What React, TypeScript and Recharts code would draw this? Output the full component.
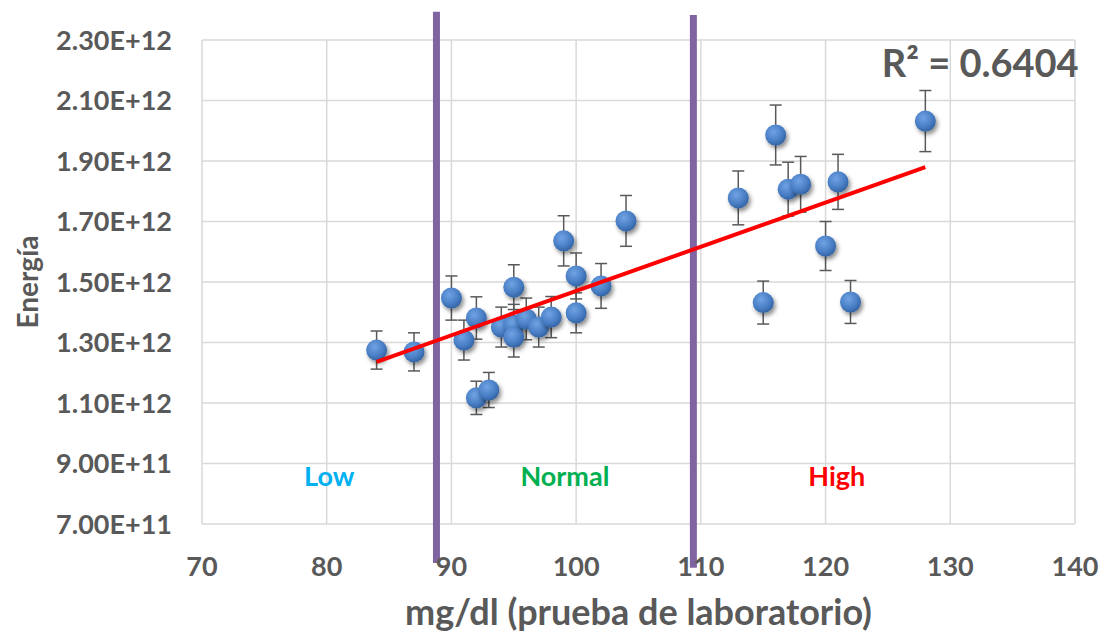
import {
  ScatterChart,
  Scatter,
  XAxis,
  YAxis,
  CartesianGrid,
  ErrorBar,
  ReferenceLine,
  ReferenceDot,
} from "recharts";

// mg/dl values (x) and energy (y) with error half-ranges
const glucose = [84, 87, 90, 91, 92, 92, 93, 94, 95, 95, 95, 96, 97, 98, 99, 100, 100, 102, 104, 113, 115, 116, 117, 118, 120, 121, 122, 128];
const energy = [1.275e12, 1.269e12, 1.447e12, 1.308e12, 1.381e12, 1.117e12, 1.143e12, 1.351e12, 1.358e12, 1.318e12, 1.483e12, 1.378e12, 1.351e12, 1.384e12, 1.636e12, 1.52e12, 1.398e12, 1.487e12, 1.702e12, 1.778e12, 1.432e12, 1.986e12, 1.807e12, 1.823e12, 1.619e12, 1.831e12, 1.434e12, 2.032e12];
const energyErr = [0.063e12, 0.063e12, 0.073e12, 0.066e12, 0.07e12, 0.055e12, 0.058e12, 0.066e12, 0.068e12, 0.066e12, 0.074e12, 0.069e12, 0.066e12, 0.068e12, 0.083e12, 0.076e12, 0.066e12, 0.074e12, 0.084e12, 0.089e12, 0.071e12, 0.099e12, 0.089e12, 0.092e12, 0.081e12, 0.091e12, 0.071e12, 0.101e12];

const trendX = [84, 128];
const trendY = [1.236e12, 1.88e12];

const xTicks = [70, 80, 90, 100, 110, 120, 130, 140];
const yTicks = [7e11, 9e11, 1.1e12, 1.3e12, 1.5e12, 1.7e12, 1.9e12, 2.1e12, 2.3e12];

const zones = [
  { name: "Low", x: 80.2, color: "#00b0f0" },
  { name: "Normal", x: 99.1, color: "#00b050" },
  { name: "High", x: 120.9, color: "#ff0000" },
];

const points = glucose.map((x, i) => ({ x, y: energy[i], err: energyErr[i] }));
const trend = trendX.map((x, i) => ({ x, y: trendY[i] }));

const FONT = "Lato, 'Open Sans', sans-serif";
const GREY = "#595959";

const fmtY = (v: number) => v.toExponential(2).toUpperCase();

const Marker = (props: any) => {
  const { cx, cy } = props;
  if (cx == null || cy == null) return null;
  return (
    <circle cx={cx} cy={cy} r={10.5} fill="url(#ballGrad)" filter="url(#ballShadow)" />
  );
};

export default function App() {
  return (
    <div style={{ position: "absolute", left: 0, top: 0, background: "#fff" }}>
      <ScatterChart
        width={1107}
        height={640}
        margin={{ top: 40, right: 32, left: 0, bottom: 0 }}
        style={{ fontFamily: FONT }}
      >
        <defs>
          <radialGradient id="ballGrad" cx="40%" cy="35%" r="70%">
            <stop offset="0%" stopColor="#6fa3e3" />
            <stop offset="60%" stopColor="#4a7fc6" />
            <stop offset="100%" stopColor="#2f5f9e" />
          </radialGradient>
          <filter id="ballShadow" x="-50%" y="-50%" width="200%" height="200%">
            <feDropShadow dx="2" dy="3" stdDeviation="2" floodColor="#000" floodOpacity="0.45" />
          </filter>
        </defs>
        <CartesianGrid stroke="#d9d9d9" strokeWidth={1.5} />
        <XAxis
          type="number"
          dataKey="x"
          domain={[70, 140]}
          ticks={xTicks}
          axisLine={false}
          tickLine={false}
          tickSize={0}
          tickMargin={33}
          height={116}
          tick={{ fill: GREY, fontSize: 27, fontWeight: 700 }}
          label={{
            value: "mg/dl (prueba de laboratorio)",
            position: "insideBottom",
            offset: 15,
            fill: GREY,
            fontSize: 36,
            fontWeight: 700,
          }}
        />
        <YAxis
          type="number"
          dataKey="y"
          domain={[7e11, 2.3e12]}
          ticks={yTicks}
          tickFormatter={fmtY}
          axisLine={false}
          tickLine={false}
          tickSize={0}
          tickMargin={30}
          width={202}
          tick={{ fill: GREY, fontSize: 27, fontWeight: 700 }}
          label={{
            value: "Energía",
            angle: -90,
            position: "insideLeft",
            offset: 28,
            fill: GREY,
            fontSize: 28,
            fontWeight: 700,
            style: { textAnchor: "middle" },
          }}
        />
        <Scatter data={points} shape={Marker} isAnimationActive={false}>
          <ErrorBar dataKey="err" direction="y" stroke={GREY} strokeWidth={1.5} width={6} />
        </Scatter>
        <Scatter
          data={trend}
          line={{ stroke: "#ff0000", strokeWidth: 4 }}
          shape={() => null}
          isAnimationActive={false}
        />
        <ReferenceLine
          segment={[{ x: 88.8, y: 2.393e12 }, { x: 88.8, y: 0.571e12 }]}
          stroke="#8064a2"
          strokeWidth={7}
          ifOverflow="visible"
        />
        <ReferenceLine
          segment={[{ x: 109.4, y: 2.383e12 }, { x: 109.4, y: 0.555e12 }]}
          stroke="#8064a2"
          strokeWidth={7}
          ifOverflow="visible"
        />
        {zones.map((z) => (
          <ReferenceDot
            key={z.name}
            x={z.x}
            y={0.859e12}
            ifOverflow="visible"
            shape={(p: any) => (
              <text
                x={p.cx}
                y={p.cy}
                textAnchor="middle"
                dominantBaseline="central"
                fill={z.color}
                fontSize={27}
                fontWeight={700}
                fontFamily={FONT}
              >
                {z.name}
              </text>
            )}
          />
        ))}
        <ReferenceDot
          x={132.4}
          y={2.227e12}
          ifOverflow="visible"
          shape={(p: any) => (
            <text
              x={p.cx}
              y={p.cy}
              textAnchor="middle"
              dominantBaseline="central"
              fill={GREY}
              fontSize={38}
              fontWeight={700}
              fontFamily={FONT}
            >
              R² = 0.6404
            </text>
          )}
        />
      </ScatterChart>
    </div>
  );
}
